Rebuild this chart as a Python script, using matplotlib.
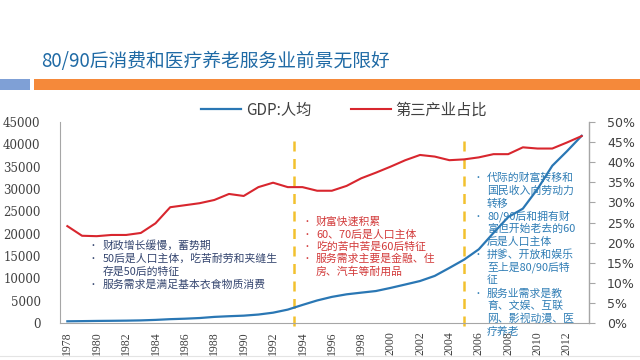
import matplotlib
matplotlib.use("Agg")
import matplotlib.pyplot as plt
from matplotlib.patches import Rectangle
from matplotlib.lines import Line2D
from matplotlib.ticker import PercentFormatter, FixedLocator

plt.rcParams['font.family'] = ['Noto Sans CJK SC', 'DejaVu Sans']

# ---------------- data ----------------
years = list(range(1978, 2014))
gdp_per_capita = [381, 419, 463, 492, 528, 583, 695, 858, 963, 1112, 1366, 1519,
                  1644, 1893, 2311, 2998, 4044, 5046, 5846, 6420, 6796, 7159, 7858,
                  8622, 9398, 10542, 12336, 14185, 16500, 20169, 23708, 25608,
                  30015, 35198, 38459, 41908]
tertiary_share = [24.1, 21.7, 21.6, 21.9, 21.9, 22.4, 24.8, 28.8, 29.3, 29.8, 30.6,
                  32.1, 31.6, 33.8, 34.9, 33.8, 33.8, 32.9, 32.9, 34.1, 36.0, 37.4,
                  38.9, 40.5, 41.8, 41.4, 40.5, 40.7, 41.2, 42.0, 42.0, 43.7, 43.4,
                  43.4, 44.9, 46.5]
year_ticks = list(range(1978, 2013, 2))
left_ticks = [0, 5000, 10000, 15000, 20000, 25000, 30000, 35000, 40000, 45000]
right_ticks = [0, 5, 10, 15, 20, 25, 30, 35, 40, 45, 50]
period_breaks = [1993.4, 2005.0]

title = "80/90后消费和医疗养老服务业前景无限好"
legend_labels = ["GDP:人均", "第三产业占比"]
note_1 = [("•", "财政增长缓慢，蓄势期"),
          ("•", "50后是人口主体，吃苦耐劳和夹缝生"),
          ("", "存是50后的特征"),
          ("•", "服务需求是满足基本衣食物质消费")]
note_2 = [("•", "财富快速积累"),
          ("•", "60、70后是人口主体"),
          ("•", "吃的苦中苦是60后特征"),
          ("•", "服务需求主要是金融、住"),
          ("", "房、汽车等耐用品")]
note_3 = [("•", "代际的财富转移和"),
          ("", "国民收入向劳动力"),
          ("", "转移"),
          ("•", "80/90后和拥有财"),
          ("", "富但开始老去的60"),
          ("", "后是人口主体"),
          ("•", "拼爹、开放和娱乐"),
          ("", "至上是80/90后特"),
          ("", "征"),
          ("•", "服务业需求是教"),
          ("", "育、文娱、互联"),
          ("", "网、影视动漫、医"),
          ("", "疗养老")]

# ---------------- figure ----------------
W, H = 640, 360
fig = plt.figure(figsize=(6.4, 3.6), dpi=100, facecolor="white")


def fx(px):
    return px / W


def fy(py):
    return 1 - py / H


# header bars
fig.add_artist(Rectangle((fx(0), fy(90)), fx(30), 11 / H, transform=fig.transFigure,
                         facecolor="#7fa0d6", edgecolor="none"))
fig.add_artist(Rectangle((fx(34), fy(90)), fx(606), 11 / H, transform=fig.transFigure,
                         facecolor="#f5893a", edgecolor="none"))
fig.text(fx(41), fy(61), title, fontsize=13.5, color="#1f6aa5", va="center", ha="left")

# bottom faint line
fig.add_artist(Line2D([0, 1], [fy(356), fy(356)], transform=fig.transFigure,
                      color="#e4e4e4", lw=0.8))

ax = fig.add_axes([fx(60), fy(323), fx(589 - 60), (323 - 122) / H])
ax2 = ax.twinx()

blue = "#2a77b4"
red = "#d8262e"
l1, = ax.plot(years, gdp_per_capita, color=blue, lw=1.6, zorder=3)
l2, = ax2.plot(years, tertiary_share, color=red, lw=1.5, zorder=3)

ax.set_xlim(1977.5, 2013.5)
ax.set_ylim(0, 45000)
ax2.set_ylim(0, 50)

for xb in period_breaks:
    ax.axvline(xb, ymin=-0.015, ymax=0.93, color="#f2c12e", lw=1.8,
               dashes=(4, 3), clip_on=False, zorder=2)

# spines
for a in (ax, ax2):
    a.spines["top"].set_visible(False)
for s in ("left", "bottom"):
    ax.spines[s].set_color("#a6a6a6")
ax2.spines["right"].set_color("#a6a6a6")
ax2.spines["left"].set_visible(False)
ax2.spines["bottom"].set_visible(False)

ax.xaxis.set_major_locator(FixedLocator(year_ticks))
ax.set_xticklabels([str(y) for y in year_ticks], rotation=90,
                   fontfamily="Liberation Serif", fontsize=8.5, color="#404040")
ax.tick_params(axis="x", length=0, pad=6)

ax.yaxis.set_major_locator(FixedLocator(left_ticks))
ax.set_yticklabels([str(v) for v in left_ticks], fontfamily="DejaVu Serif",
                   fontsize=8.5, color="#404040")
ax.tick_params(axis="y", length=0, pad=14)

ax2.yaxis.set_major_locator(FixedLocator(right_ticks))
ax2.yaxis.set_major_formatter(PercentFormatter(xmax=100, decimals=0))
ax2.tick_params(axis="y", length=4, width=0.8, color="#a6a6a6", pad=9,
                labelsize=9, labelcolor="#404040")
for t in ax2.get_yticklabels():
    t.set_fontfamily("DejaVu Sans")

# legend
fig.legend([l1, l2], legend_labels, loc="center", bbox_to_anchor=(fx(344), fy(110)),
           ncol=2, frameon=False, fontsize=11, handlelength=2.6, handletextpad=0.3,
           columnspacing=2.6, labelcolor="#404040")


def draw_note(lines, x_bullet, x_text, y0, dy, color):
    for i, (b, s) in enumerate(lines):
        y = fy(y0 + i * dy)
        if b:
            fig.text(fx(x_bullet), y, b, fontsize=6.5, color=color, va="center",
                     ha="center", zorder=10)
        fig.text(fx(x_text), y, s, fontsize=7.8, color=color, va="center",
                 ha="left", zorder=10)


draw_note(note_1, 93, 103, 245, 13.3, "#34456f")
draw_note(note_2, 307, 316, 222, 12.3, "#d23a3a")
draw_note(note_3, 478, 487, 178, 12.8, "#2f7db5")

fig.savefig("out.png", dpi=100, facecolor="white")
